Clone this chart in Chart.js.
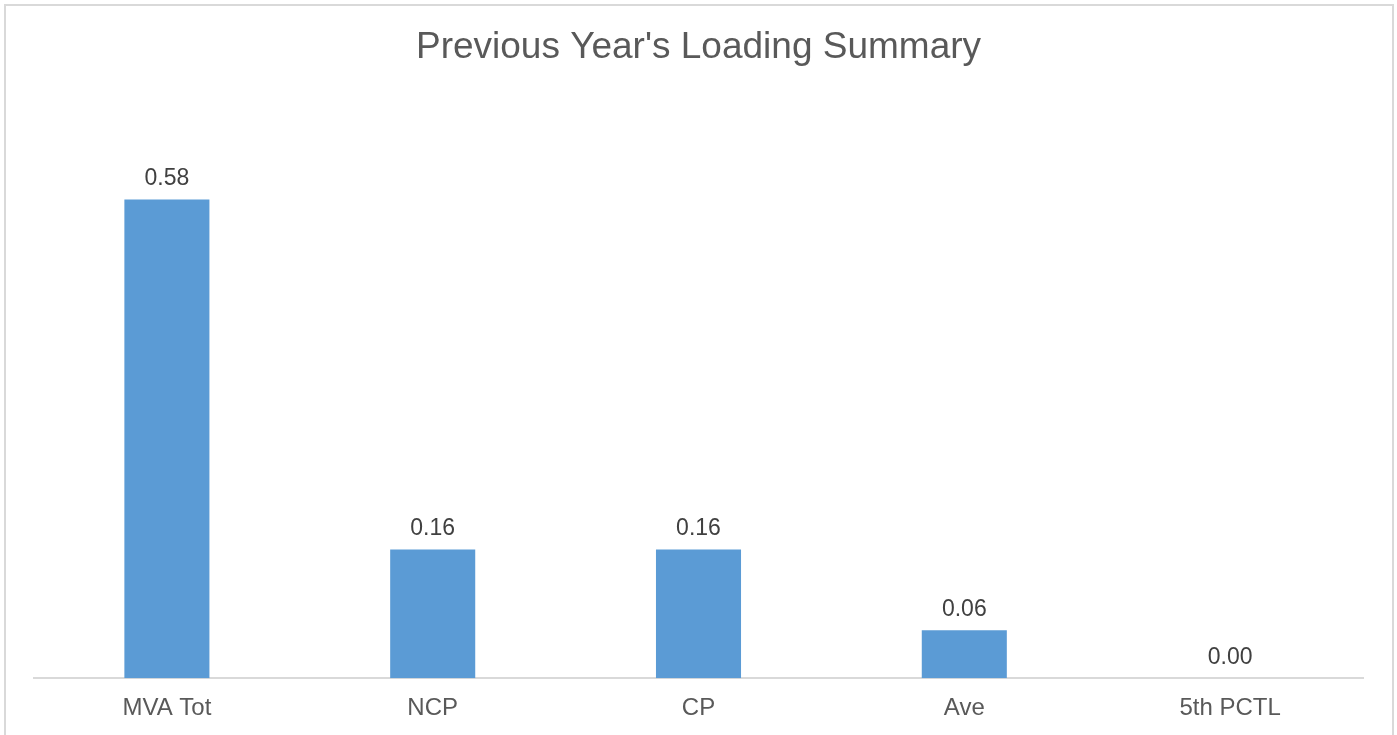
<!DOCTYPE html>
<html>
<head>
<meta charset="utf-8">
<script src="https://cdn.jsdelivr.net/npm/chart.js@4/dist/chart.umd.min.js"></script>
<style>
  html, body { margin: 0; padding: 0; background: #fff; overflow: hidden; }
  #wrap { position: relative; width: 1397px; height: 735px; overflow: hidden; }
  #frame { position: absolute; left: 4px; top: 4px; width: 1386px; height: 760px; border: 2px solid #d9d9d9; pointer-events: none; }
  canvas { position: absolute; left: 0; top: 0; }
</style>
</head>
<body>
<div id="wrap">
  <canvas id="loadChart" width="1397" height="739"></canvas>
  <div id="frame"></div>
</div>
<script>
var categories = ['MVA Tot', 'NCP', 'CP', 'Ave', '5th PCTL'];
var loadValues = [0.58, 0.156, 0.156, 0.058, 0.0];
var chartTitle = "Previous Year's Loading Summary";

// draw the value above each bar, like excel data labels
var valueLabels = {
    id: 'valueLabels',
    afterDatasetsDraw: function (chart) {
        var ctx = chart.ctx;
        var meta = chart.getDatasetMeta(0);
        ctx.save();
        ctx.font = '23px "Liberation Sans", Arial, sans-serif';
        ctx.fillStyle = '#404040';
        ctx.textAlign = 'center';
        ctx.textBaseline = 'middle';
        meta.data.forEach(function (bar, i) {
            ctx.fillText(loadValues[i].toFixed(2), bar.x, bar.y - 21);
        });
        ctx.restore();
    }
};

var ctx = document.getElementById('loadChart').getContext('2d');
new Chart(ctx, {
    type: 'bar',
    data: {
        labels: categories,
        datasets: [{
            data: loadValues,
            backgroundColor: '#5b9bd5',
            borderWidth: 0,
            barPercentage: 0.32,
            categoryPercentage: 1
        }]
    },
    options: {
        responsive: false,
        animation: false,
        layout: { padding: { left: 34, right: 34, top: 0, bottom: 0 } },
        plugins: {
            legend: { display: false },
            tooltip: { enabled: false },
            title: {
                display: true,
                text: chartTitle,
                color: '#595959',
                font: { family: '"Liberation Sans", Arial, sans-serif', size: 37, weight: 'normal' },
                padding: { top: 26, bottom: 30 }
            }
        },
        scales: {
            x: {
                grid: { display: false, drawTicks: false },
                border: { display: true, color: '#d9d9d9', width: 2 },
                ticks: {
                    color: '#595959',
                    padding: 16,
                    font: { family: '"Liberation Sans", Arial, sans-serif', size: 24 }
                }
            },
            y: {
                display: false,
                min: 0,
                max: 0.7
            }
        }
    },
    plugins: [valueLabels]
});
</script>
</body>
</html>
